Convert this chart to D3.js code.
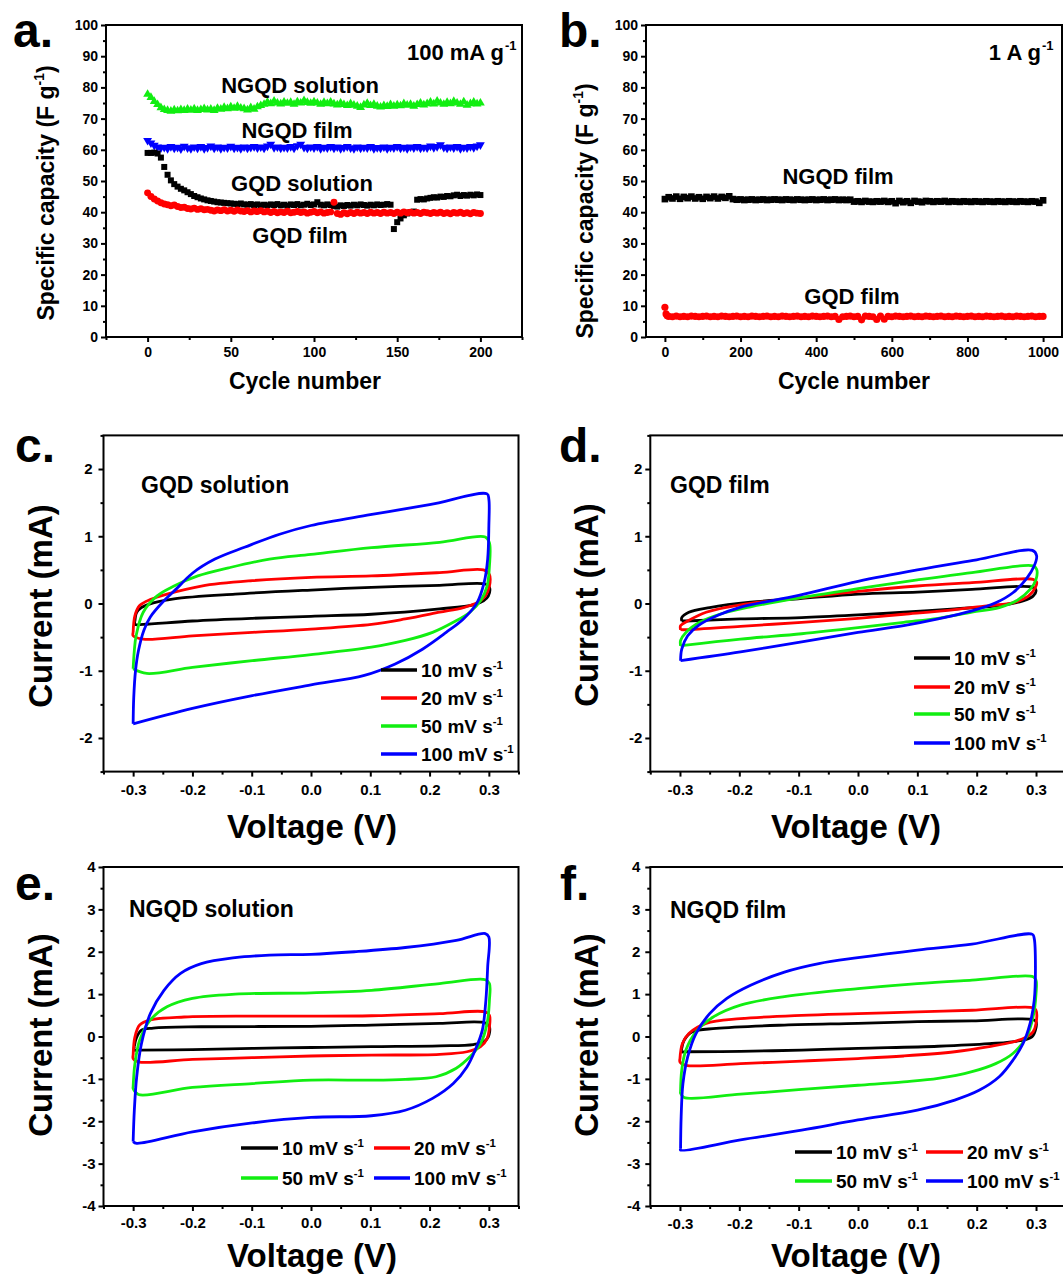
<!DOCTYPE html>
<html lang="en">
<head>
<meta charset="UTF-8">
<title>Specific capacity and CV curves</title>
<style>
  body { margin: 0; background: #fff; }
  svg { display: block; }
</style>
</head>
<body>
<svg width="1063" height="1276"></svg>
<script src="https://d3js.org/d3.v7.min.js"></script>
<script>
// ---------- data: panel a (100 mA g-1) ----------
var cycA = [0,2,4,6,8,10,12,14,16,18,20,22,24,26,28,30,32,34,36,38,40,42,44,46,48,50,52,54,56,58,
  60,62,64,66,68,70,72,74,76,78,80,82,84,86,88,90,92,94,96,98,100,102,104,106,108,110,112,114,116,118,
  120,122,124,126,128,130,132,134,136,138,140,142,144,146,148,150,152,154,156,158,160,162,164,166,168,170,172,174,176,178,
  180,182,184,186,188,190,192,194,196,198,200];
var ngqdSolA = [77.8,76.8,75.5,74.5,73.5,72.9,72.6,72.4,72.8,72.5,
  72.9,72.6,73.0,72.7,73.1,72.6,72.9,73.2,72.8,73.0,
  72.6,73.3,73.0,73.6,73.2,73.8,73.3,73.9,73.4,73.2,
  72.8,73.5,73.0,73.8,74.2,74.6,75.3,74.8,75.6,75.0,
  74.7,75.3,74.9,75.2,74.6,75.4,75.0,75.8,75.2,74.9,
  75.4,75.0,74.6,75.2,74.8,75.3,74.7,74.4,75.0,74.5,
  74.2,74.8,74.3,74.0,73.6,74.4,74.9,74.2,74.6,74.0,
  73.7,74.2,73.9,74.5,74.0,74.4,74.1,74.8,74.3,74.6,
  74.0,74.5,75.0,74.4,74.8,75.3,74.7,75.6,75.0,74.6,
  75.2,74.8,75.5,75.0,74.6,75.4,74.3,74.8,75.3,74.7,75.0];
var ngqdFilmA = [63.0,62.2,61.4,60.9,60.6,60.8,60.4,61.0,60.5,60.8,
  60.3,61.1,60.6,60.4,60.9,60.5,61.0,60.4,60.7,61.2,
  60.5,60.9,60.4,60.8,60.6,61.1,60.5,60.8,60.4,60.9,
  60.5,60.8,61.0,60.6,60.9,60.5,61.2,61.8,60.7,60.9,
  60.5,60.8,60.6,61.0,60.5,61.3,61.8,60.8,60.5,60.9,
  60.6,61.0,60.4,60.8,60.6,61.0,60.5,60.9,60.4,60.7,
  61.0,60.6,60.4,60.9,60.5,60.8,60.6,61.0,60.4,60.7,
  60.5,60.9,60.4,60.8,60.6,61.0,60.5,60.8,60.4,60.9,
  60.6,61.0,60.5,60.8,60.6,61.2,60.7,61.0,61.6,60.8,
  60.5,60.9,60.6,61.0,60.4,60.8,60.6,61.0,60.7,61.2,61.6];
var gqdSolA = [59.0,59.0,59.1,58.8,57.5,54.5,52.0,50.2,49.0,48.2,
  47.5,47.0,46.4,45.8,45.2,44.8,44.4,44.1,43.8,43.6,
  43.4,43.2,43.1,43.0,42.9,42.8,42.7,42.6,42.8,42.5,
  42.4,42.6,42.3,42.5,42.2,42.4,42.2,42.5,42.3,42.6,
  42.2,42.4,42.1,42.5,42.3,42.6,42.2,42.4,42.7,42.3,
  42.5,43.2,42.4,42.2,42.5,42.3,42.0,41.8,42.2,42.0,
  42.3,42.1,42.4,42.2,42.5,42.3,42.1,42.4,42.2,42.5,
  42.3,42.4,42.6,42.4,34.6,36.8,38.0,39.0,39.6,40.0,
  40.2,44.0,44.2,44.1,44.4,44.6,44.8,44.7,45.0,44.9,
  45.2,45.1,45.4,45.6,45.2,45.5,45.3,45.6,45.4,45.7,45.5];
var gqdFilmA = [46.2,45.0,44.2,43.6,43.0,42.6,42.4,42.1,42.3,41.8,
  41.5,41.6,41.2,41.0,41.3,40.9,41.1,40.8,40.9,40.6,
  40.4,40.7,40.5,40.8,40.4,40.6,40.3,40.7,40.4,40.2,
  40.5,40.1,40.4,40.2,40.5,40.1,40.3,39.9,40.2,39.8,
  40.1,39.9,40.3,39.8,40.0,40.2,39.9,40.1,39.7,40.0,
  40.2,39.8,40.1,39.7,39.9,40.1,43.2,39.6,39.3,39.8,
  39.5,39.9,39.6,40.0,39.7,39.9,39.6,40.0,39.7,39.9,
  39.6,40.0,39.7,39.9,39.6,40.0,39.7,40.1,39.8,40.0,
  39.7,39.9,39.6,40.0,39.8,39.6,39.9,39.7,40.0,39.6,
  39.8,39.5,39.9,39.7,40.0,39.6,39.8,39.5,39.9,39.7,39.6];

// ---------- data: panel b (1 A g-1) ----------
var cycB = [0,10,20,30,40,50,60,70,80,90,100,110,120,130,140,150,160,170,180,190,
  200,210,220,230,240,250,260,270,280,290,300,310,320,330,340,350,360,370,380,390,
  400,410,420,430,440,450,460,470,480,490,500,510,520,530,540,550,560,570,580,590,
  600,610,620,630,640,650,660,670,680,690,700,710,720,730,740,750,760,770,780,790,
  800,810,820,830,840,850,860,870,880,890,900,910,920,930,940,950,960,970,980,990,1000];
var ngqdFilmB = [44.2,44.8,44.4,45.0,44.3,44.9,44.5,45.0,44.4,44.8,
  44.3,44.9,44.5,45.0,44.4,44.9,44.6,45.1,44.2,44.0,
  44.1,43.9,44.0,44.1,43.9,44.0,44.1,43.9,44.0,44.1,
  44.0,43.9,44.1,44.0,43.9,44.1,44.0,43.9,44.0,44.1,
  43.9,44.0,44.1,43.9,44.0,44.1,43.9,44.0,43.9,44.0,
  43.4,43.5,43.3,43.6,43.4,43.3,43.5,43.4,43.6,43.3,
  43.5,42.9,43.6,43.2,43.5,43.0,43.6,43.4,43.2,43.6,
  43.5,43.3,43.5,43.4,43.6,43.3,43.5,43.4,43.3,43.5,
  43.4,43.3,43.5,43.4,43.3,43.5,43.4,43.3,43.5,43.4,
  43.3,43.5,43.4,43.3,43.5,43.4,43.3,43.5,43.4,43.0,43.8];
var cycBRed = [0,3,6,10,20,30,40,50,60,70,80,90,100,110,120,130,140,150,160,170,180,190,
  200,210,220,230,240,250,260,270,280,290,300,310,320,330,340,350,360,370,380,390,
  400,410,420,430,440,450,460,470,480,490,500,510,520,530,540,550,560,570,580,590,
  600,610,620,630,640,650,660,670,680,690,700,710,720,730,740,750,760,770,780,790,
  800,810,820,830,840,850,860,870,880,890,900,910,920,930,940,950,960,970,980,990,1000];
var gqdFilmB = [9.5,7.4,6.8,
  6.6,6.5,6.7,6.5,6.6,6.5,6.7,6.6,6.5,6.6,
  6.7,6.5,6.6,6.5,6.7,6.6,6.5,6.6,6.7,6.5,
  6.6,6.5,6.7,6.6,6.5,6.6,6.7,6.5,6.6,6.5,
  6.7,6.6,6.5,6.6,6.7,6.5,6.6,6.5,6.7,6.6,
  6.5,6.6,6.7,6.5,6.6,5.6,6.5,6.6,6.7,6.5,
  6.6,5.5,6.7,6.6,6.5,5.6,6.7,5.7,6.6,6.5,
  6.7,6.6,6.5,6.6,6.7,6.5,6.6,6.5,6.7,6.6,
  6.5,6.6,6.7,6.5,6.6,6.5,6.7,6.6,6.5,6.6,
  6.7,6.5,6.6,6.5,6.7,6.6,6.5,6.6,6.7,6.5,
  6.6,6.5,6.7,6.6,6.5,6.6,6.7,6.5,6.6,6.6];

// ---------- data: CV loops [V, mA] ----------
var rates = ["10", "20", "50", "100"];

var gqdSol10 = [[-0.297,-0.26],[-0.294,-0.13],[-0.286,-0.06],[-0.266,0.01],[-0.231,0.07],[-0.128,0.14],[0.000,0.20],[0.102,0.24],[0.217,0.27],[0.294,0.29],
  [0.301,0.24],[0.299,0.11],[0.291,0.04],[0.274,-0.02],[0.217,-0.08],[0.102,-0.16],[0.000,-0.19],[-0.099,-0.22],[-0.200,-0.26],[-0.283,-0.31],[-0.297,-0.31],[-0.297,-0.26]];
var gqdSol20 = [[-0.300,-0.43],[-0.297,-0.18],[-0.289,-0.03],[-0.271,0.06],[-0.243,0.14],[-0.185,0.26],[-0.099,0.34],[0.000,0.39],[0.102,0.41],[0.217,0.46],[0.291,0.50],
  [0.301,0.43],[0.301,0.26],[0.294,0.11],[0.280,0.01],[0.257,-0.06],[0.217,-0.13],[0.159,-0.23],[0.102,-0.31],[0.000,-0.38],[-0.099,-0.43],[-0.200,-0.48],[-0.283,-0.53],[-0.300,-0.48],[-0.300,-0.43]];
var gqdSol50 = [[-0.300,-0.97],[-0.298,-0.70],[-0.295,-0.48],[-0.283,-0.13],[-0.260,0.11],[-0.231,0.26],[-0.191,0.41],[-0.139,0.53],[-0.070,0.66],[0.000,0.73],[0.102,0.83],[0.217,0.91],[0.294,0.99],
  [0.301,0.90],[0.301,0.56],[0.297,0.26],[0.286,0.04],[0.268,-0.13],[0.240,-0.28],[0.205,-0.43],[0.159,-0.55],[0.102,-0.65],[0.000,-0.76],[-0.099,-0.85],[-0.200,-0.95],[-0.277,-1.04],[-0.300,-0.97]];
var gqdSol100 = [[-0.300,-1.79],[-0.299,-1.40],[-0.296,-1.00],[-0.291,-0.70],[-0.282,-0.40],[-0.271,-0.20],[-0.248,0.04],[-0.228,0.21],[-0.200,0.45],[-0.162,0.66],[-0.111,0.84],[-0.053,1.03],[0.000,1.16],[0.100,1.32],[0.200,1.47],[0.297,1.63],
  [0.300,1.55],[0.300,1.15],[0.298,0.66],[0.292,0.31],[0.280,0.01],[0.257,-0.23],[0.228,-0.43],[0.188,-0.68],[0.142,-0.90],[0.090,-1.07],[0.000,-1.21],[-0.099,-1.37],[-0.200,-1.56],[-0.300,-1.79]];

var gqdFilm10 = [[-0.297,-0.26],[-0.297,-0.21],[-0.285,-0.13],[-0.250,-0.06],[-0.181,0.02],[-0.101,0.07],[0.000,0.14],[0.100,0.17],[0.192,0.21],[0.295,0.24],
  [0.300,0.19],[0.295,0.11],[0.278,0.04],[0.238,-0.03],[0.163,-0.08],[0.077,-0.13],[0.000,-0.17],[-0.095,-0.21],[-0.198,-0.23],[-0.290,-0.26],[-0.297,-0.26]];
var gqdFilm20 = [[-0.299,-0.39],[-0.299,-0.33],[-0.287,-0.26],[-0.256,-0.13],[-0.198,-0.02],[-0.101,0.08],[0.000,0.18],[0.100,0.26],[0.192,0.31],[0.295,0.36],
  [0.301,0.32],[0.299,0.24],[0.287,0.11],[0.261,0.01],[0.221,-0.03],[0.163,-0.09],[0.077,-0.16],[0.000,-0.22],[-0.095,-0.28],[-0.198,-0.34],[-0.290,-0.39],[-0.299,-0.39]];
var gqdFilm50 = [[-0.299,-0.63],[-0.299,-0.55],[-0.290,-0.43],[-0.267,-0.28],[-0.233,-0.16],[-0.181,-0.05],[-0.101,0.08],[0.000,0.22],[0.100,0.35],[0.192,0.46],[0.295,0.56],
  [0.301,0.51],[0.300,0.36],[0.290,0.21],[0.267,0.04],[0.238,-0.06],[0.192,-0.13],[0.135,-0.22],[0.077,-0.28],[0.000,-0.36],[-0.095,-0.45],[-0.198,-0.53],[-0.290,-0.62],[-0.299,-0.63]];
var gqdFilm100 = [[-0.299,-0.85],[-0.297,-0.68],[-0.287,-0.48],[-0.268,-0.32],[-0.235,-0.17],[-0.200,-0.06],[-0.100,0.12],[0.000,0.33],[0.100,0.50],[0.200,0.65],[0.294,0.79],
  [0.301,0.71],[0.297,0.56],[0.284,0.37],[0.261,0.16],[0.232,0.01],[0.192,-0.11],[0.135,-0.23],[0.077,-0.33],[0.000,-0.43],[-0.095,-0.57],[-0.198,-0.72],[-0.299,-0.85]];

var ngqdSol10 = [[-0.298,-0.24],[-0.295,-0.05],[-0.286,0.15],[-0.266,0.20],[-0.185,0.23],[0.000,0.24],[0.102,0.27],[0.217,0.31],[0.294,0.32],
  [0.301,0.23],[0.299,-0.01],[0.291,-0.13],[0.274,-0.19],[0.217,-0.22],[0.102,-0.24],[0.000,-0.26],[-0.099,-0.28],[-0.200,-0.31],[-0.291,-0.32],[-0.298,-0.32],[-0.298,-0.24]];
var ngqdSol20 = [[-0.300,-0.44],[-0.297,-0.01],[-0.289,0.27],[-0.271,0.39],[-0.214,0.46],[-0.099,0.48],[0.000,0.48],[0.102,0.49],[0.217,0.54],[0.294,0.58],
  [0.301,0.50],[0.301,0.23],[0.297,-0.05],[0.286,-0.24],[0.263,-0.36],[0.217,-0.42],[0.102,-0.44],[0.000,-0.46],[-0.099,-0.50],[-0.200,-0.54],[-0.291,-0.60],[-0.300,-0.52],[-0.300,-0.44]];
var ngqdSol50 = [[-0.300,-1.19],[-0.297,-0.64],[-0.289,-0.09],[-0.271,0.39],[-0.243,0.70],[-0.200,0.90],[-0.128,1.00],[0.000,1.03],[0.102,1.09],[0.217,1.25],[0.294,1.34],
  [0.301,1.25],[0.301,0.86],[0.297,0.31],[0.286,-0.17],[0.268,-0.48],[0.245,-0.75],[0.211,-0.95],[0.159,-1.01],[0.102,-1.03],[0.000,-1.03],[-0.099,-1.11],[-0.200,-1.20],[-0.291,-1.37],[-0.300,-1.23],[-0.300,-1.19]];
var ngqdSol100 = [[-0.300,-2.48],[-0.298,-1.74],[-0.294,-0.95],[-0.286,-0.17],[-0.271,0.54],[-0.248,1.09],[-0.220,1.49],[-0.185,1.72],[-0.128,1.86],[-0.070,1.92],[0.000,1.94],[0.073,2.00],[0.159,2.10],[0.245,2.27],[0.294,2.43],
  [0.300,2.35],[0.298,1.64],[0.295,0.86],[0.289,0.15],[0.277,-0.32],[0.263,-0.72],[0.240,-1.11],[0.205,-1.46],[0.159,-1.74],[0.102,-1.87],[0.000,-1.91],[-0.099,-2.04],[-0.200,-2.25],[-0.294,-2.52],[-0.300,-2.48]];

var ngqdFilm10 = [[-0.297,-0.28],[-0.293,-0.09],[-0.279,0.11],[-0.239,0.19],[-0.124,0.27],[0.000,0.31],[0.100,0.35],[0.192,0.37],[0.295,0.40],
  [0.300,0.35],[0.299,0.15],[0.293,-0.01],[0.273,-0.10],[0.221,-0.17],[0.135,-0.23],[0.000,-0.28],[-0.095,-0.32],[-0.198,-0.35],[-0.290,-0.36],[-0.297,-0.36],[-0.297,-0.28]];
var ngqdFilm20 = [[-0.300,-0.52],[-0.296,-0.17],[-0.285,0.07],[-0.256,0.31],[-0.198,0.42],[-0.095,0.50],[0.000,0.54],[0.100,0.58],[0.192,0.62],[0.295,0.68],
  [0.300,0.62],[0.300,0.31],[0.295,0.11],[0.284,-0.01],[0.261,-0.13],[0.221,-0.24],[0.163,-0.36],[0.077,-0.46],[0.000,-0.52],[-0.095,-0.58],[-0.198,-0.64],[-0.290,-0.68],[-0.300,-0.60],[-0.300,-0.52]];
var ngqdFilm50 = [[-0.299,-1.30],[-0.297,-0.79],[-0.290,-0.32],[-0.273,0.11],[-0.244,0.46],[-0.198,0.74],[-0.124,0.94],[0.000,1.13],[0.100,1.25],[0.192,1.33],[0.295,1.41],
  [0.300,1.33],[0.300,1.01],[0.295,0.46],[0.284,-0.01],[0.261,-0.40],[0.232,-0.64],[0.192,-0.83],[0.135,-0.99],[0.077,-1.07],[0.000,-1.15],[-0.095,-1.25],[-0.198,-1.36],[-0.293,-1.44],[-0.299,-1.34],[-0.299,-1.30]];
var ngqdFilm100 = [[-0.299,-2.64],[-0.298,-1.89],[-0.295,-1.11],[-0.287,-0.48],[-0.273,0.07],[-0.250,0.54],[-0.221,0.90],[-0.181,1.21],[-0.124,1.52],[-0.066,1.72],[0.000,1.86],[0.100,2.04],[0.192,2.18],[0.294,2.41],
  [0.297,2.31],[0.299,1.64],[0.297,0.86],[0.290,0.31],[0.278,-0.17],[0.261,-0.56],[0.238,-0.95],[0.204,-1.27],[0.163,-1.50],[0.100,-1.74],[0.000,-1.97],[-0.095,-2.21],[-0.198,-2.44],[-0.299,-2.68],[-0.299,-2.64]];

// tick values
var ticksCycA = [0, 50, 100, 150, 200];
var ticksCycB = [0, 200, 400, 600, 800, 1000];
var ticksCap = [0, 10, 20, 30, 40, 50, 60, 70, 80, 90, 100];
var ticksV = [-0.3, -0.2, -0.1, 0.0, 0.1, 0.2, 0.3];
var ticksI2 = [-2, -1, 0, 1, 2];
var ticksI4 = [-4, -3, -2, -1, 0, 1, 2, 3, 4];

// ---------- drawing ----------
var FONT = '"Liberation Sans", Arial, Helvetica, sans-serif';
var colors = ["#000000", "#ff0000", "#11ee11", "#0000ff"];
var svg = d3.select("svg");

function addText(parent, x, y, size, anchor, pieces, rotate) {
  var t = parent.append("text")
    .attr("font-family", FONT).attr("font-weight", "bold")
    .attr("font-size", size).attr("text-anchor", anchor).attr("fill", "#000");
  if (rotate) t.attr("transform", "translate(" + x + "," + y + ") rotate(-90)");
  else t.attr("x", x).attr("y", y);
  var up = false;
  pieces.forEach(function(p) {
    var s = t.append("tspan").text(p.t);
    if (p.sup) { s.attr("font-size", size * 0.6).attr("dy", -size * 0.42); up = true; }
    else if (up) { s.attr("dy", size * 0.42); up = false; }
  });
  return t;
}

function minorOf(major, step, dom) {
  // half-step ticks between the major ones, kept inside the axis range
  var out = [];
  major.forEach(function(m) { out.push(m - step / 2); });
  out.push(major[major.length - 1] + step / 2);
  var lo = Math.min(dom[0], dom[1]) - 1e-9, hi = Math.max(dom[0], dom[1]) + 1e-9;
  return out.filter(function(v) { return v >= lo && v <= hi; });
}

function makePanel(p) {
  var g = svg.append("g");
  var x = d3.scaleLinear().domain(p.xDom).range(p.xRange);
  var y = d3.scaleLinear().domain(p.yDom).range(p.yRange);
  var B = p.yRange[0], T = p.yRange[1], L = p.xRange[0], R = p.xRange[1];

  var axes = [
    { ax: d3.axisBottom(x).tickValues(p.xMinor).tickSize(3).tickFormat(""), tr: "translate(0," + B + ")" },
    { ax: d3.axisBottom(x).tickValues(p.xMajor).tickSize(5).tickPadding(p.padX).tickFormat(p.fmtX), tr: "translate(0," + B + ")" },
    { ax: d3.axisLeft(y).tickValues(p.yMinor).tickSize(3).tickFormat(""), tr: "translate(" + L + ",0)" },
    { ax: d3.axisLeft(y).tickValues(p.yMajor).tickSize(5).tickPadding(p.padY).tickFormat(p.fmtY), tr: "translate(" + L + ",0)" }
  ];
  axes.forEach(function(a) {
    var ag = g.append("g").attr("transform", a.tr).call(a.ax);
    ag.select(".domain").remove();
    ag.selectAll("line").attr("stroke-width", 2);
    ag.attr("font-family", FONT).attr("font-size", p.tickFs).attr("font-weight", "bold");
    ag.selectAll("text").attr("fill", "#000");
  });

  var data = g.append("g");
  g.append("rect").attr("x", L).attr("y", T).attr("width", R - L).attr("height", B - T)
    .attr("fill", "none").attr("stroke", "#000").attr("stroke-width", 2);
  return { g: g, data: data, x: x, y: y };
}

var fmtInt = function(d) { return String(d); };
var fmtV = function(d) { return d.toFixed(1); };

function capPanel(xRange, xDom, xMajor, xStep) {
  return makePanel({
    xRange: xRange, yRange: [337, 25], xDom: xDom, yDom: [0, 100],
    xMajor: xMajor, xMinor: minorOf(xMajor, xStep, xDom),
    yMajor: ticksCap, yMinor: minorOf(ticksCap, 10, [0, 100]),
    fmtX: fmtInt, fmtY: fmtInt, padX: 5, padY: 3, tickFs: 14
  });
}

function cvPanel(xRange, yRange, yDom, yMajor, padX, padY) {
  return makePanel({
    xRange: xRange, yRange: yRange, xDom: [-0.35, 0.35], yDom: yDom,
    xMajor: ticksV, xMinor: minorOf(ticksV, 0.1, [-0.35, 0.35]),
    yMajor: yMajor, yMinor: minorOf(yMajor, 1, yDom),
    fmtX: fmtV, fmtY: fmtInt, padX: padX, padY: padY, tickFs: 15
  });
}

function scatter(pn, xs, ys, shape, size, color, rot) {
  var sym = d3.symbol().type(shape).size(size);
  pn.data.append("g").selectAll("path")
    .data(ys.map(function(v, i) { return [xs[i], v]; }))
    .join("path")
    .attr("d", sym)
    .attr("transform", function(d) {
      return "translate(" + pn.x(d[0]) + "," + pn.y(d[1]) + ")" + (rot ? " rotate(180)" : "");
    })
    .attr("fill", color);
}

function loops(pn, series) {
  var line = d3.line().x(function(d) { return pn.x(d[0]); }).y(function(d) { return pn.y(d[1]); })
    .curve(d3.curveCatmullRom.alpha(0.5));
  series.forEach(function(s, i) {
    pn.data.append("path").attr("d", line(s)).attr("fill", "none")
      .attr("stroke", colors[i]).attr("stroke-width", 2.8).attr("stroke-linejoin", "round");
  });
}

function legendRow(g, x0, x1, y, i, size) {
  g.append("line").attr("x1", x0).attr("x2", x1).attr("y1", y).attr("y2", y)
    .attr("stroke", colors[i]).attr("stroke-width", 3.5);
  addText(g, x1 + 4, y + 7, size, "start", [{ t: rates[i] + " mV s" }, { t: "-1", sup: true }]);
}

// panel a
var pa = capPanel([106, 522], [-25, 225], ticksCycA, 50);
scatter(pa, cycA, ngqdSolA, d3.symbolTriangle, 34, colors[2], false);
scatter(pa, cycA, ngqdFilmA, d3.symbolTriangle, 34, colors[3], true);
scatter(pa, cycA, gqdSolA, d3.symbolSquare, 36, colors[0], false);
scatter(pa, cycA, gqdFilmA, d3.symbolCircle, 38, colors[1], false);
addText(pa.g, 13, 47, 48, "start", [{ t: "a." }]);
addText(pa.g, 504, 60, 22, "end", [{ t: "100 mA g" }]);
addText(pa.g, 505, 50, 13, "start", [{ t: "-1" }]);
addText(pa.g, 300, 93, 22, "middle", [{ t: "NGQD solution" }]);
addText(pa.g, 297, 138, 22, "middle", [{ t: "NGQD film" }]);
addText(pa.g, 302, 191, 22, "middle", [{ t: "GQD solution" }]);
addText(pa.g, 300, 243, 22, "middle", [{ t: "GQD film" }]);
addText(pa.g, 305, 389, 23, "middle", [{ t: "Cycle number" }]);
addText(pa.g, 54, 193, 23, "middle", [{ t: "Specific capacity (F g" }, { t: "-1", sup: true }, { t: ")" }], true);

// panel b
var pb = capPanel([646, 1062], [-50, 1050], ticksCycB, 200);
scatter(pb, cycB, ngqdFilmB, d3.symbolSquare, 44, colors[0], false);
scatter(pb, cycBRed, gqdFilmB, d3.symbolCircle, 40, colors[1], false);
addText(pb.g, 559, 47, 48, "start", [{ t: "b." }]);
addText(pb.g, 1041, 60, 22, "end", [{ t: "1 A g" }]);
addText(pb.g, 1042, 50, 13, "start", [{ t: "-1" }]);
addText(pb.g, 838, 184, 22, "middle", [{ t: "NGQD film" }]);
addText(pb.g, 852, 304, 22, "middle", [{ t: "GQD film" }]);
addText(pb.g, 854, 389, 23, "middle", [{ t: "Cycle number" }]);
addText(pb.g, 593, 211, 23, "middle", [{ t: "Specific capacity (F g" }, { t: "-1", sup: true }, { t: ")" }], true);

// panel c
var pc = cvPanel([103.5, 518.5], [771.6, 435.4], [-2.5, 2.5], ticksI2, 8, 6);
loops(pc, [gqdSol10, gqdSol20, gqdSol50, gqdSol100]);
addText(pc.g, 15, 462, 48, "start", [{ t: "c." }]);
addText(pc.g, 141, 493, 23, "start", [{ t: "GQD solution" }]);
[670, 698, 726, 754].forEach(function(yy, i) { legendRow(pc.g, 381, 417, yy, i, 19); });
addText(pc.g, 312, 838, 33, "middle", [{ t: "Voltage (V)" }]);
addText(pc.g, 52, 606, 33, "middle", [{ t: "Current (mA)" }], true);

// panel d
var pd = cvPanel([650.3, 1065.7], [771.6, 435.4], [-2.5, 2.5], ticksI2, 8, 3);
loops(pd, [gqdFilm10, gqdFilm20, gqdFilm50, gqdFilm100]);
addText(pd.g, 559, 462, 48, "start", [{ t: "d." }]);
addText(pd.g, 670, 493, 23, "start", [{ t: "GQD film" }]);
[658, 687, 714, 743].forEach(function(yy, i) { legendRow(pd.g, 914, 950, yy, i, 19); });
addText(pd.g, 856, 838, 33, "middle", [{ t: "Voltage (V)" }]);
addText(pd.g, 598, 605, 33, "middle", [{ t: "Current (mA)" }], true);

// panel e
var pe = cvPanel([103.5, 518.5], [1206, 867], [-4, 4], ticksI4, 6, 3);
loops(pe, [ngqdSol10, ngqdSol20, ngqdSol50, ngqdSol100]);
addText(pe.g, 15, 900, 48, "start", [{ t: "e." }]);
addText(pe.g, 129, 917, 23, "start", [{ t: "NGQD solution" }]);
legendRow(pe.g, 241, 278, 1148, 0, 19);
legendRow(pe.g, 374, 410, 1148, 1, 19);
legendRow(pe.g, 241, 278, 1178, 2, 19);
legendRow(pe.g, 374, 410, 1178, 3, 19);
addText(pe.g, 312, 1267, 33, "middle", [{ t: "Voltage (V)" }]);
addText(pe.g, 52, 1035, 33, "middle", [{ t: "Current (mA)" }], true);

// panel f
var pf = cvPanel([650.3, 1065.7], [1206, 867], [-4, 4], ticksI4, 7, 5);
loops(pf, [ngqdFilm10, ngqdFilm20, ngqdFilm50, ngqdFilm100]);
addText(pf.g, 560, 900, 48, "start", [{ t: "f." }]);
addText(pf.g, 670, 918, 23, "start", [{ t: "NGQD film" }]);
legendRow(pf.g, 795, 832, 1152, 0, 19);
legendRow(pf.g, 926, 963, 1152, 1, 19);
legendRow(pf.g, 795, 832, 1181, 2, 19);
legendRow(pf.g, 926, 963, 1181, 3, 19);
addText(pf.g, 856, 1267, 33, "middle", [{ t: "Voltage (V)" }]);
addText(pf.g, 598, 1035, 33, "middle", [{ t: "Current (mA)" }], true);
</script>
</body>
</html>
